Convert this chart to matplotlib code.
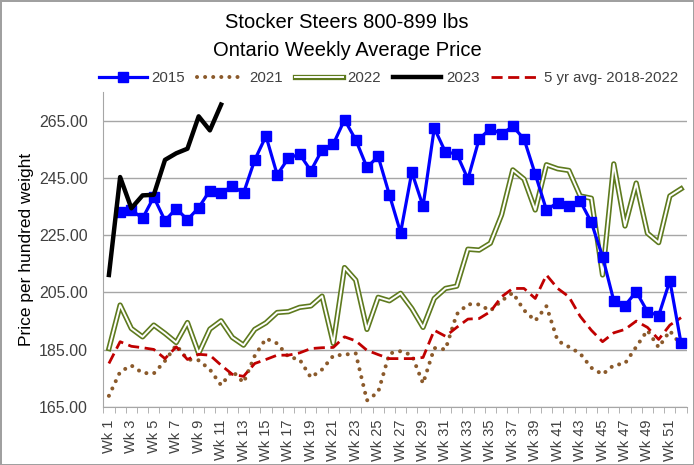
import matplotlib
matplotlib.use("Agg")
import matplotlib.pyplot as plt
import matplotlib.patheffects as pe
import numpy as np

weeks = [f"Wk {i}" for i in range(1, 53)]

y2015 = [np.nan, 233.0, 233.8, 230.9, 238.3, 230.1, 234.3, 230.4, 234.6, 240.6,
         239.7, 242.2, 239.7, 251.3, 259.6, 246.1, 251.9, 253.3, 247.5, 254.8,
         256.8, 265.3, 258.3, 248.7, 252.5, 239.1, 225.9, 247.0, 235.1, 262.4,
         254.0, 253.4, 244.6, 258.6, 262.2, 260.3, 263.0, 258.6, 246.3, 233.8,
         236.4, 235.2, 237.0, 229.5, 217.5, 202.1, 200.4, 205.3, 198.3, 196.9,
         209.1, 187.2]

y2021 = [168.9, 177.3, 179.5, 176.9, 176.7, 181.1, 186.6, 181.6, 181.3, 178.1,
         172.6, 177.6, 173.5, 182.9, 188.9, 187.2, 182.5, 181.6, 175.3, 178.1,
         182.9, 183.3, 183.7, 167.3, 170.2, 183.7, 184.5, 183.1, 173.2, 185.6,
         185.1, 197.4, 200.9, 200.8, 198.6, 202.1, 204.9, 198.8, 195.1, 200.2,
         188.1, 186.0, 183.7, 178.7, 176.4, 179.6, 180.2, 186.0, 191.8, 185.8,
         191.6, 186.6]

y2022 = [185.4, 200.6, 192.4, 189.5, 193.6, 190.7, 187.5, 194.5, 183.7, 192.2,
         195.1, 189.3, 186.6, 192.1, 194.4, 198.0, 198.3, 199.8, 200.3, 203.7,
         187.2, 213.7, 209.3, 192.1, 203.3, 202.1, 204.7, 199.4, 192.8, 202.9,
         206.4, 207.2, 220.1, 219.8, 222.2, 232.1, 247.8, 244.6, 233.8, 249.6,
         248.2, 247.6, 238.7, 237.9, 211.1, 249.9, 228.2, 243.2, 225.7, 222.4,
         238.7, 241.2]

y2023 = [211.1, 245.3, 234.4, 238.9, 239.1, 251.3, 253.6, 255.2, 266.5, 261.6,
         270.6]

yavg = [180.2, 187.8, 186.2, 185.7, 185.1, 181.9, 186.0, 181.6, 183.4, 183.1,
        179.6, 176.4, 175.7, 180.2, 181.6, 183.1, 183.1, 183.9, 185.4, 185.7,
        185.8, 189.5, 188.1, 184.8, 183.3, 181.9, 181.9, 181.9, 182.3, 191.8,
        189.7, 192.8, 195.7, 195.9, 198.3, 203.5, 206.4, 206.4, 202.9, 211.1,
        206.4, 203.5, 196.7, 191.8, 187.8, 190.9, 192.1, 195.0, 192.8, 188.6,
        193.6, 196.2]

yticks = [165, 185, 205, 225, 245, 265]
title = "Stocker Steers 800-899 lbs\nOntario Weekly Average Price"
ylabel = "Price per hundred weight"
series_labels = ["2015", "2021", "2022", "2023", "5 yr avg- 2018-2022"]

plt.rcParams['font.family'] = ['Liberation Sans', 'DejaVu Sans']

fig = plt.figure(figsize=(6.94, 4.65), dpi=100)
fig.patch.set_edgecolor('#a0a0a0')
fig.patch.set_linewidth(1.0)
ax = fig.add_axes([103.3/694, 1-407/465, (686.7-103.3)/694, (407-92)/465])

x = np.arange(len(weeks))
txt = '#404040'

l21, = ax.plot(x, y2021, color='#8B5A2B', lw=2.9, linestyle=(0, (0.01, 2.0)),
               dash_capstyle='round', solid_capstyle='round', zorder=3,
               label=series_labels[1])
g, = ax.plot(x, y2022, color='white', lw=1.4, zorder=3,
             path_effects=[pe.Stroke(linewidth=3.8, foreground='#5E7A1E'), pe.Normal()],
             label=series_labels[2])
la, = ax.plot(x, yavg, color='#C00000', lw=2.0, linestyle=(0, (4, 2)), zorder=3.2,
              label=series_labels[4])
l15, = ax.plot(x, y2015, color='#0000FF', lw=2.3, marker='s', markersize=6.8,
               zorder=4, label=series_labels[0])
l23, = ax.plot(np.arange(len(y2023)), y2023, color='black', lw=3.2, zorder=5,
               label=series_labels[3])

ax.set_xlim(-0.5, len(weeks) - 0.5)
ax.set_ylim(165, 275)
ax.set_yticks(yticks)
ax.set_yticklabels([f"{v:.2f}" for v in yticks], fontsize=11.5, color=txt)
ax.yaxis.grid(True, color='#a6a6a6', lw=1.0)
ax.set_axisbelow(True)
ax.tick_params(axis='y', length=0, pad=11)

ax.set_xticks(np.arange(-0.5, len(weeks), 1), minor=True)
ax.set_xticks(x[::2])
ax.set_xticklabels(weeks[::2], rotation=90, fontsize=10.5, color=txt)
ax.tick_params(axis='x', which='major', length=0, pad=9)
ax.tick_params(axis='x', which='minor', length=4, color='#a6a6a6', direction='out')

for s in ['top', 'right']:
    ax.spines[s].set_visible(False)
ax.spines['left'].set_color('#a6a6a6')
ax.spines['bottom'].set_color('#a6a6a6')

ax.set_ylabel(ylabel, fontsize=12.5, color='black')
ax.yaxis.set_label_coords((34-103.3)/583.4, 0.5)

fig.text(0.5, 1-13/465, title, ha='center', va='top', fontsize=14.5, linespacing=1.6)

handles = [l15, l21, g, l23, la]
fig.legend(handles, series_labels, loc='center left',
           bbox_to_anchor=(99/694, 1-78/465),
           ncol=5, frameon=False, fontsize=10.8, handlelength=3.2,
           columnspacing=0.8, handletextpad=0.3, borderpad=0, borderaxespad=0,
           labelcolor=txt)

fig.savefig("out.png", dpi=100)
